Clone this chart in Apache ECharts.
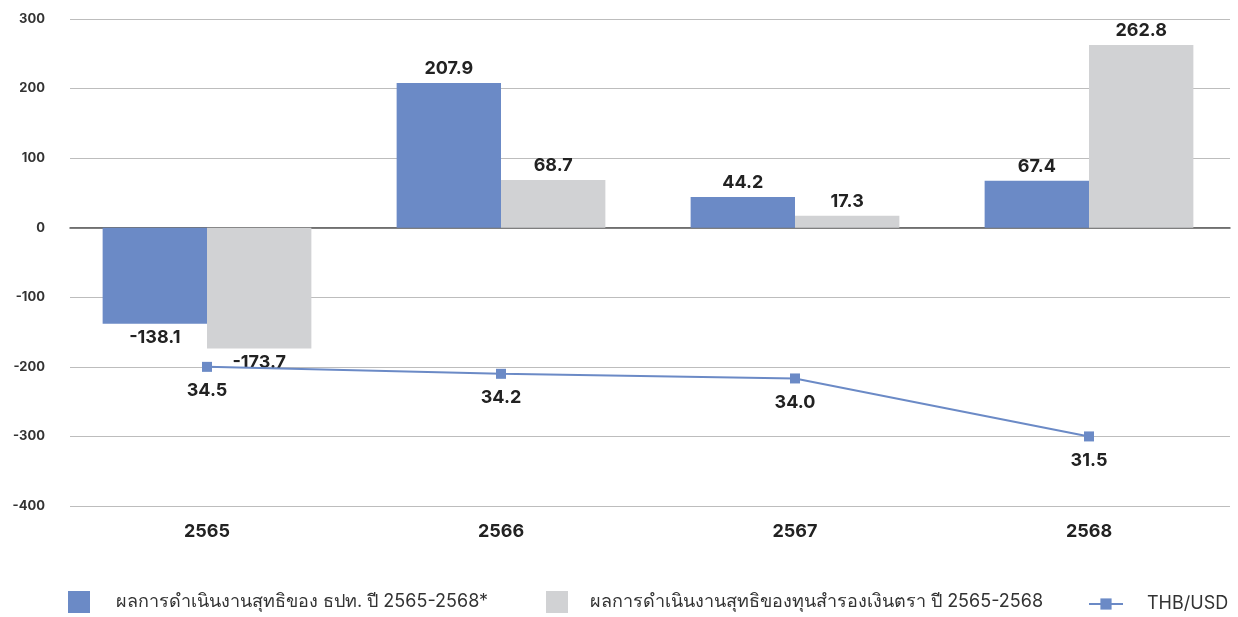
<!DOCTYPE html>
<html><head><meta charset="utf-8">
<script src="https://cdn.jsdelivr.net/npm/echarts@6/dist/echarts.min.js"></script>
<style>html,body{margin:0;padding:0;background:#fff}#c{width:1238px;height:617px}</style>
</head><body><div id="c"></div>
<script>
var categories = ['2565', '2566', '2567', '2568'];
var botNet = [-138.1, 207.9, 44.2, 67.4];
var reserveNet = [-173.7, 68.7, 17.3, 262.8];
var thbUsd = [34.5, 34.2, 34.0, 31.5];
var yTicks = { min: -400, max: 300, interval: 100 };
var seriesNames = ['ผลการดำเนินงานสุทธิของ ธปท. ปี 2565-2568*', 'ผลการดำเนินงานสุทธิของทุนสำรองเงินตรา ปี 2565-2568', 'THB/USD'];

var FONT = 'Inter, "Noto Sans", sans-serif';
var BLUE = '#6b8ac6', GREY = '#d1d2d4';
var chart = echarts.init(document.getElementById('c'));
var barLabel = { show: true, fontFamily: FONT, fontWeight: 'bold', fontSize: 18, color: '#222',
  formatter: function (p) { return p.value.toFixed(1); } };
function barData(arr) {
  return arr.map(function (v) { return { value: v, label: { position: v < 0 ? 'bottom' : 'top' } }; });
}
var legendText = { fontFamily: FONT, fontSize: 18, color: '#333' };
chart.setOption({
  animation: false,
  grid: [
    { left: 70, right: 8, top: 19, bottom: 111 },
    { left: 60, right: 2, top: 19, bottom: 111 }
  ],
  legend: [
    { data: [{ name: seriesNames[0], icon: 'rect' }], left: 68, top: 591, padding: 0, itemWidth: 22, itemHeight: 22, itemGap: 0, textStyle: Object.assign({ padding: [0, 0, 0, 21] }, legendText) },
    { data: [{ name: seriesNames[1], icon: 'rect' }], left: 546, top: 591, padding: 0, itemWidth: 22, itemHeight: 22, itemGap: 0, textStyle: Object.assign({ padding: [0, 0, 0, 17] }, legendText) },
    { data: [seriesNames[2]], left: 1088, top: 595, padding: 0, itemWidth: 34, itemHeight: 14, itemGap: 0, textStyle: Object.assign({ padding: [0, 0, 0, 19] }, legendText) }
  ],
  xAxis: [
    { type: 'category', gridIndex: 0, data: categories, axisLabel: { show: false }, axisTick: { show: false },
      axisLine: { show: true, onZero: true, lineStyle: { color: '#555', width: 1.5 } } },
    { type: 'category', gridIndex: 1, data: categories, axisTick: { show: false }, axisLine: { show: false },
      axisLabel: { fontFamily: FONT, fontWeight: 'bold', fontSize: 18, color: '#222', margin: 17 } }
  ],
  yAxis: [
    { type: 'value', gridIndex: 0, min: yTicks.min, max: yTicks.max, interval: yTicks.interval,
      axisLabel: { fontFamily: FONT, fontWeight: 'bold', fontSize: 13, color: '#333', margin: 25 },
      splitLine: { lineStyle: { color: '#bdbdbd', width: 1 } }, axisLine: { show: false }, axisTick: { show: false } },
    { type: 'value', gridIndex: 1, min: yTicks.min, max: yTicks.max, interval: yTicks.interval, show: false },
    { type: 'value', gridIndex: 1, min: 28.5, max: 49.5, show: false }
  ],
  series: [
    { name: seriesNames[0], type: 'bar', xAxisIndex: 1, yAxisIndex: 1, data: barData(botNet),
      itemStyle: { color: BLUE }, barGap: '0%', barCategoryGap: '29%', label: barLabel },
    { name: seriesNames[1], type: 'bar', xAxisIndex: 1, yAxisIndex: 1, data: barData(reserveNet),
      itemStyle: { color: GREY }, barGap: '0%', barCategoryGap: '29%', label: barLabel },
    { name: seriesNames[2], type: 'line', xAxisIndex: 1, yAxisIndex: 2, data: thbUsd,
      symbol: 'rect', symbolSize: 10, lineStyle: { color: BLUE, width: 2 }, itemStyle: { color: BLUE },
      label: { show: true, position: 'bottom', distance: 10, fontFamily: FONT, fontWeight: 'bold', fontSize: 18, color: '#222',
        formatter: function (p) { return p.value.toFixed(1); } } }
  ]
});
</script></body></html>
